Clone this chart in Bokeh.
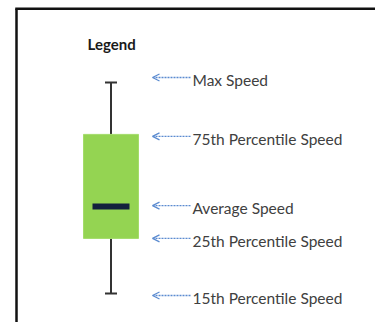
from bokeh.plotting import figure
from bokeh.models import Range1d, Arrow, OpenHead, ColumnDataSource
from bokeh.core.properties import value
from bokeh.embed import file_html
from bokeh.resources import INLINE

# Box-plot legend statistics (speed units)
stat_names = ["Max Speed", "75th Percentile Speed", "Average Speed",
              "25th Percentile Speed", "15th Percentile Speed"]
max_speed = 100.0
p75_speed = 75.4
avg_speed = 41.2
p25_speed = 26.1
p15_speed = 0.0
stat_values = [max_speed, p75_speed, avg_speed, p25_speed, p15_speed]

W, H = 375, 322
PX_PER_UNIT = 2.11
Y0_PAGE = 293.0  # image y of speed 0
def sp(img_y):
    return (Y0_PAGE - img_y) / PX_PER_UNIT

p = figure(width=W, height=H, output_backend="svg", toolbar_location=None,
           x_range=Range1d(0, W), y_range=Range1d(sp(H), sp(0)),
           min_border=0)
p.axis.visible = False
p.grid.visible = False
p.outline_line_color = None
p.background_fill_color = "white"
p.border_fill_color = "white"

# frame border (left and top edges)
p.multi_line(xs=[[16, 16], [14.75, W]], ys=[[sp(H + 5), sp(8.3)], [sp(8.3), sp(8.3)]],
             line_color="#111111", line_width=2.5)

cx = 110.5
# whiskers
p.segment(x0=[cx, cx], y0=[max_speed, p25_speed], x1=[cx, cx], y1=[p75_speed, p15_speed],
          line_color="#333333", line_width=2)
p.segment(x0=[cx - 6, cx - 6], x1=[cx + 6, cx + 6], y0=[max_speed, p15_speed],
          y1=[max_speed, p15_speed], line_color="#333333", line_width=2)
# box
p.quad(left=[cx - 27.5], right=[cx + 27.5], bottom=[p25_speed], top=[p75_speed],
       fill_color="#94D452", line_color="#A4DC6A", line_width=1)
# average bar
p.quad(left=[cx - 18.5], right=[cx + 18.5], bottom=[avg_speed - 3 / PX_PER_UNIT],
       top=[avg_speed + 3 / PX_PER_UNIT], fill_color="#13213D", line_color=None)

# title
p.text(x=[87], y=[sp(43)], text=["Legend"], text_font=value("Lato"),
       text_font_style="bold", text_font_size="15px", text_color="#1a1a1a",
       text_baseline="middle", text_align="left")

# annotation arrows, nudged a few pixels (upward positive) like the original
nudge_px = [5, -2, 1, 0, -2]
arrow_y = [v + n / PX_PER_UNIT for v, n in zip(stat_values, nudge_px)]
for y in arrow_y:
    p.add_layout(Arrow(x_start=190, y_start=y, x_end=152, y_end=y,
                       line_color="#5B8BD0", line_width=1.3, line_dash="2 1",
                       end=OpenHead(size=7, line_color="#5B8BD0", line_width=1.3)))

src = ColumnDataSource(dict(x=[192] * len(stat_values), y=arrow_y, t=stat_names))
p.text(x="x", y="y", text="t", source=src, text_font=value("Lato"),
       text_font_size="15.5px", text_color="#404040", text_baseline="middle",
       text_align="left", y_offset=2.5)

open("out.html", "w").write(file_html(p, INLINE))
